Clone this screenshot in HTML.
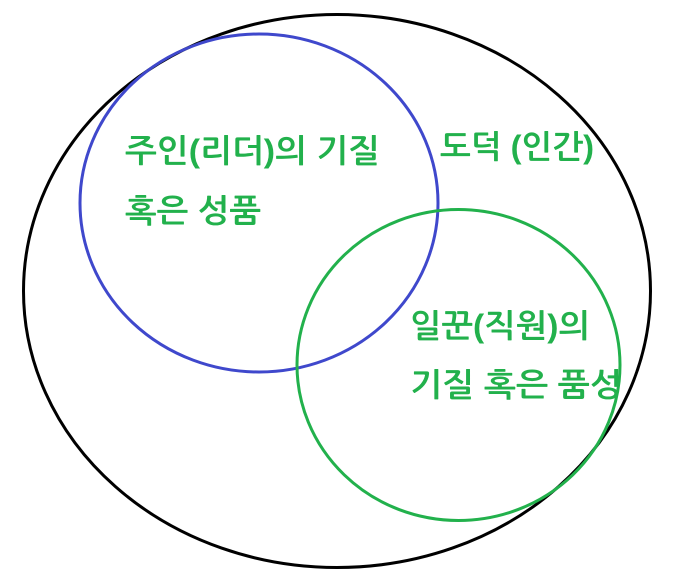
<!DOCTYPE html>
<html>
<head>
<meta charset="utf-8">
<style>
html,body{margin:0;padding:0;background:#fff;width:692px;height:582px;overflow:hidden}
svg{display:block}
text{font-family:"Liberation Sans","NanumGothic","Noto Sans CJK KR",sans-serif;font-size:32px;font-weight:bold;fill:#22b14c}
</style>
</head>
<body>
<svg width="692" height="582" viewBox="0 0 692 582" xmlns="http://www.w3.org/2000/svg">
<ellipse cx="337" cy="291" rx="313.5" ry="276.5" fill="none" stroke="#000" stroke-width="3"/>
<ellipse cx="259" cy="203" rx="179" ry="169" fill="none" stroke="#3f48cc" stroke-width="3"/>
<ellipse cx="458.500" cy="365" rx="161.500" ry="155.500" fill="none" stroke="#22b14c" stroke-width="3"/>
<text x="125" y="162" textLength="255" lengthAdjust="spacingAndGlyphs">주인(리더)의 기질</text>
<text x="125" y="222" textLength="136" lengthAdjust="spacingAndGlyphs">혹은 성품</text>
<text x="440" y="158" textLength="154" lengthAdjust="spacingAndGlyphs">도덕 (인간)</text>
<text x="410" y="337" textLength="180" lengthAdjust="spacingAndGlyphs">일꾼(직원)의</text>
<text x="410" y="396" textLength="212" lengthAdjust="spacingAndGlyphs">기질 혹은 품성</text>
</svg>
</body>
</html>
